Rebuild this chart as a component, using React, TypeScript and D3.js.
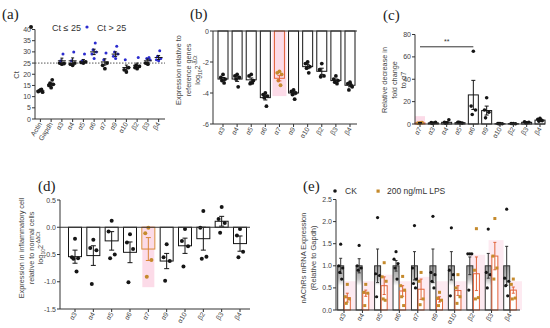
import React from "react";
import * as d3 from "d3";

const FONT = "'Liberation Sans', Arial, sans-serif";
const SERIF = "'Liberation Serif', 'Times New Roman', serif";

// ---------- (a) Ct values ----------
const catsA = ["Actin", "Gapdh", "α3", "α4", "α5", "α6", "α7", "α9", "α10", "β2", "β3", "β4"];
const ctLow = [
  [13, 12.3, 12, 12.6, 13.2], [14, 15, 15.5, 16, 17.5], [24.5, 25, 24.8], [24, 24.5, 25], [25, 25.3, 25.5], [],
  [22.5, 24, 25], [], [21, 22, 23], [22.5, 23, 23.5, 24], [24.5, 25], [],
];
const ctHigh = [
  [], [], [26, 29], [26, 30], [26, 29], [27, 29, 30, 31, 34], [26.5, 29.5], [27, 28, 29, 30, 32.5],
  [26.5], [27.5], [26.5, 27, 27.5], [26, 26.5, 27, 28, 30.5],
];
const ctMean = [12.6, 15.5, 26, 26, 25.8, 30, 25.5, 29, 23, 24, 26, 27.5];
const ctSem = [0.3, 0.6, 1.2, 1.3, 0.8, 1.2, 1.4, 1.0, 1.1, 1.0, 0.8, 0.9];
const ticksA = [0, 5, 10, 15, 20, 25, 30, 35, 40];

// ---------- (b) log10 2^-ΔCt ----------
const catsB = ["α3", "α4", "α5", "α6", "α7", "α9", "α10", "β2", "β3", "β4"];
const meanB = [-3.1, -3.1, -3.15, -4.3, -3.05, -4.0, -2.3, -2.6, -3.2, -3.5];
const semB = [0.1, 0.15, 0.12, 0.15, 0.17, 0.12, 0.13, 0.2, 0.1, 0.1];
const ptsB = [
  [-2.8, -3.0, -3.1, -3.2, -3.35], [-2.8, -2.9, -3.0, -3.1, -3.6], [-2.8, -2.9, -3.2, -3.4, -3.35],
  [-4.0, -4.1, -4.2, -4.3, -4.85], [-2.6, -2.7, -2.8, -3.2, -3.5], [-3.8, -3.9, -4.0, -4.1, -4.4],
  [-2.0, -2.1, -2.3, -2.4, -2.7], [-2.1, -2.5, -2.9, -2.95], [-2.9, -3.1, -3.2, -3.3, -3.4],
  [-3.3, -3.4, -3.6, -3.8, -3.5],
];
const ticksB = [0, -2, -4, -6];

// ---------- (c) fold change relative to α7 ----------
const catsC = ["α7", "α3", "α4", "α5", "α6", "α9", "α10", "β2", "β3", "β4"];
const meanC = [1, 1, 1.5, 1.2, 26, 12, 0.3, 0.3, 1.5, 3.5];
const semC = [0.3, 0.2, 0.6, 0.3, 13, 4, 0.1, 0.1, 0.3, 0.6];
const ptsC = [
  [1, 0.8, 1.2, 0.5, 1.4], [0.8, 1.2, 1.5, 0.6], [1, 1.5, 3.8, 0.7], [1.2, 1.5, 0.8, 1.6],
  [65, 16, 12.5, 8.5], [23.5, 12.5, 10.5, 5.5], [0.3, 0.4, 0.2, 0.3], [0.3, 0.4, 0.2],
  [1, 2, 1.5, 1.2], [5, 4.2, 3, 2.5, 3.5],
];
const ticksC = [0, 20, 40, 60, 80];
const sigC = { from: "α7", to: "α6", level: 69, label: "**" };

// ---------- (d) inflammatory vs normal ----------
const catsD = ["α3", "α4", "α5", "α6", "α7", "α9", "α10", "β2", "β3", "β4"];
const meanD = [-0.54, -0.52, -0.25, -0.46, -0.40, -0.62, -0.34, -0.21, 0.11, -0.30];
const semD = [0.12, 0.18, 0.17, 0.19, 0.21, 0.14, 0.14, 0.21, 0.09, 0.14];
const ptsD = [
  [-0.21, -0.55, -0.57, -0.58, -0.81], [-0.23, -0.38, -0.42, -1.04], [0.12, -0.08, -0.50, -0.57],
  [-0.13, -0.28, -0.40, -1.01], [-0.01, -0.11, -0.60, -0.91], [-0.31, -0.55, -0.62, -0.98],
  [-0.03, -0.25, -0.35, -0.72], [0.30, -0.01, -0.54, -0.58], [0.37, 0.15, 0.08, -0.10],
  [-0.03, -0.15, -0.45, -0.55],
];
const ticksD = [0.5, 0.0, -0.5, -1.0, -1.5];

// ---------- (e) CK vs LPS ----------
const catsE = ["α3", "α4", "α5", "α6", "α7", "α9", "α10", "β2", "β3", "β4"];
const meanCK = [1, 1, 1, 1, 1, 1, 1, 1, 1, 1];
const semCK = [0.17, 0.16, 0.38, 0.12, 0.32, 0.38, 0.32, 0.2, 0.28, 0.44];
const ptsCK = [
  [1.49, 1.0, 0.95, 0.85, 0.7], [1.46, 1.0, 0.95, 0.9], [2.09, 0.82, 0.78, 0.3], [1.32, 1.15, 1.05, 0.95, 0.7],
  [1.91, 0.95, 0.7, 0.6, 0.5], [2.12, 0.85, 0.8, 0.65, 0.5], [1.86, 0.9, 0.8, 0.32], [1.27, 1.27, 1.27, 0.45],
  [1.83, 0.85, 0.8, 0.5], [2.28, 0.72, 0.65, 0.55, 0.32],
];
const meanLPS = [0.28, 0.38, 0.55, 0.43, 0.47, 0.24, 0.44, 0.82, 1.22, 0.45];
const semLPS = [0.1, 0.07, 0.2, 0.12, 0.23, 0.06, 0.11, 0.38, 0.31, 0.07];
const ptsLPS = [
  [0.58, 0.3, 0.25, 0.15], [0.58, 0.4, 0.38, 0.1], [1.07, 0.75, 0.65, 0.25, 0.22], [0.76, 0.55, 0.45, 0.3, 0.1],
  [0.85, 0.65, 0.25, 0.12], [0.4, 0.27, 0.22, 0.1], [0.8, 0.5, 0.3, 0.15], [1.84, 0.9, 0.28, 0.25],
  [2.07, 1.22, 0.95, 0.7], [0.7, 0.58, 0.27, 0.25],
];
const ticksE = [0, 0.5, 1.0, 1.5, 2.0, 2.5];

const JIT = [0, -2.2, 2.2, -1.1, 1.1, -3, 3];
const BLACK = "#151515";
const BLUE = "#2c2ccf";
const ORANGE = "#c58a2c";
const RED = "#e2633a";
const PINK = "#fcdbe8";

function YAxis({ x, scale, ticks, fmt, lab }: any) {
  const [d0, d1] = scale.domain();
  return (
    <g fontFamily={FONT} fontSize={7} fill="#444">
      <line x1={x} x2={x} y1={scale(d0)} y2={scale(d1)} stroke="#333" strokeWidth={1} />
      {ticks.map((t: number) => (
        <g key={t}>
          <line x1={x - 3} x2={x} y1={scale(t)} y2={scale(t)} stroke="#333" />
          <text x={x - 4} y={scale(t) + 2.5} textAnchor="end">{fmt ? fmt(t) : String(t)}</text>
        </g>
      ))}
      {lab}
    </g>
  );
}

function XAxis({ y, x0, x1, scale, cats }: any) {
  return (
    <g fontFamily={FONT} fontSize={6.8} fill="#444">
      <line x1={x0} x2={x1} y1={y} y2={y} stroke="#333" strokeWidth={1} />
      {cats.map((c: string) => (
        <g key={c}>
          <line x1={scale(c)} x2={scale(c)} y1={y} y2={y + 3} stroke="#333" />
          <text transform={`translate(${scale(c) + 2},${y + 5}) rotate(-58)`} textAnchor="end">{c}</text>
        </g>
      ))}
    </g>
  );
}

function ErrBar({ x, y1, y2, w = 4, color = BLACK }: any) {
  return (
    <g stroke={color} strokeWidth={1}>
      <line x1={x} x2={x} y1={y1} y2={y2} />
      <line x1={x - w / 2} x2={x + w / 2} y1={y1} y2={y1} />
      <line x1={x - w / 2} x2={x + w / 2} y1={y2} y2={y2} />
    </g>
  );
}

function RotLabel({ x, y, lines, size = 7.5 }: any) {
  return (
    <text transform={`translate(${x},${y}) rotate(-90)`} textAnchor="middle" fontFamily={FONT} fontSize={size} fill="#444">
      {lines.map((l: any, i: number) => (
        <tspan key={i} x={0} dy={i === 0 ? 0 : 9.5}>{l}</tspan>
      ))}
    </text>
  );
}

function PanelA() {
  const x = d3.scalePoint<string>().domain(catsA).range([35, 164]).padding(0.5);
  const y = d3.scaleLinear().domain([0, 40]).range([119, 29.5]);
  return (
    <g>
      <text x={2} y={19} fontFamily={SERIF} fontSize={15} fill="#222">(a)</text>
      <circle cx={31} cy={27} r={2} fill={BLACK} />
      <text x={52} y={30.5} fontFamily={FONT} fontSize={9} fill="#333">Ct ≤ 25</text>
      <circle cx={87} cy={27} r={1.6} fill={BLUE} />
      <text x={97} y={30.5} fontFamily={FONT} fontSize={9} fill="#333">Ct &gt; 25</text>
      <line x1={35} x2={165} y1={y(25)} y2={y(25)} stroke="#555" strokeDasharray="1.5,1.5" />
      {catsA.map((c, i) => {
        const all = [...ctLow[i].map((v) => [v, 0]), ...ctHigh[i].map((v) => [v, 1])];
        return (
          <g key={c}>
            {all.map(([v, h], j) => (
              <circle key={j} cx={x(c)! + JIT[j % JIT.length]} cy={y(v)} r={h ? 1.5 : 1.9} fill={h ? BLUE : BLACK} />
            ))}
            <line x1={x(c)! - 4} x2={x(c)! + 4} y1={y(ctMean[i])} y2={y(ctMean[i])} stroke={BLACK} strokeWidth={1} />
            <ErrBar x={x(c)} y1={y(ctMean[i] - ctSem[i])} y2={y(ctMean[i] + ctSem[i])} w={3} />
          </g>
        );
      })}
      <YAxis x={35} scale={y} ticks={ticksA} lab={<RotLabel x={19} y={75} lines={["Ct"]} />} />
      <XAxis y={119} x0={35} x1={165} scale={x} cats={catsA} />
    </g>
  );
}

function PanelB() {
  const x = d3.scalePoint<string>().domain(catsB).range([223, 350]);
  const y = d3.scaleLinear().domain([0, -6]).range([31, 124]);
  const bw = 10;
  return (
    <g>
      <text x={190} y={19} fontFamily={SERIF} fontSize={15} fill="#222">(b)</text>
      <rect x={x("α7")! - 7} y={y(0)} width={14} height={y(-4.2) - y(0)} fill={PINK} />
      {catsB.map((c, i) => (
        <g key={c}>
          <rect x={x(c)! - bw / 2} y={y(0)} width={bw} height={y(meanB[i]) - y(0)} fill="none"
            stroke={c === "α7" ? RED : BLACK} strokeWidth={1} />
          {ptsB[i].map((v, j) => (
            <circle key={j} cx={x(c)! + JIT[j % JIT.length]} cy={y(v)} r={1.9} fill={c === "α7" ? ORANGE : BLACK} />
          ))}
          <ErrBar x={x(c)} y1={y(meanB[i] - semB[i])} y2={y(meanB[i] + semB[i])} w={4} color={c === "α7" ? RED : BLACK} />
        </g>
      ))}
      <line x1={213} x2={357} y1={y(0)} y2={y(0)} stroke="#333" />
      <YAxis x={213} scale={y} ticks={ticksB}
        lab={<RotLabel x={181} y={70} size={7.3} lines={["Expression relative to", "reference genes", <tspan key="l">log<tspan fontSize={5} dy={2}>10</tspan><tspan dy={-2}>2</tspan><tspan fontSize={5} dy={-3}>-ΔCt</tspan></tspan>]} />} />
      <XAxis y={124} x0={213} x1={357} scale={x} cats={catsB} />
    </g>
  );
}

function PanelC() {
  const x = d3.scalePoint<string>().domain(catsC).range([420, 540]);
  const y = d3.scaleLinear().domain([0, 80]).range([124, 34.5]);
  const bw = 10;
  return (
    <g>
      <text x={383} y={20} fontFamily={SERIF} fontSize={15} fill="#222">(c)</text>
      <rect x={x("α7")! - 5} y={y(7)} width={10} height={y(0) - y(7)} fill={PINK} />
      {catsC.map((c, i) => (
        <g key={c}>
          <rect x={x(c)! - bw / 2} y={y(meanC[i])} width={bw} height={y(0) - y(meanC[i])} fill="none"
            stroke={c === "α7" ? RED : BLACK} strokeWidth={1} />
          {ptsC[i].map((v, j) => (
            <circle key={j} cx={x(c)! + JIT[j % JIT.length]} cy={y(v)} r={1.8} fill={c === "α7" ? ORANGE : BLACK} />
          ))}
          <ErrBar x={x(c)} y1={y(Math.max(0, meanC[i] - semC[i]))} y2={y(meanC[i] + semC[i])} w={4} />
        </g>
      ))}
      <line x1={x(sigC.from)} x2={x(sigC.to)} y1={y(sigC.level)} y2={y(sigC.level)} stroke="#333" />
      <text x={(x(sigC.from)! + x(sigC.to)!) / 2} y={y(sigC.level) - 2.5} textAnchor="middle" fontFamily={FONT} fontSize={7} fill="#333">{sigC.label}</text>
      <YAxis x={415} scale={y} ticks={ticksC}
        lab={<RotLabel x={387} y={80} size={7.3} lines={["Relative decrease in", "fold change", "to α7"]} />} />
      <XAxis y={124} x0={415} x1={545} scale={x} cats={catsC} />
    </g>
  );
}

function PanelD() {
  const x = d3.scalePoint<string>().domain(catsD).range([75, 240]);
  const y = d3.scaleLinear().domain([-1.5, 0.5]).range([309, 200]);
  const bw = 13;
  return (
    <g>
      <text x={38} y={191} fontFamily={SERIF} fontSize={15} fill="#222">(d)</text>
      <rect x={x("α7")! - 6} y={y(0.02)} width={12} height={y(-1.1) - y(0.02)} fill={PINK} />
      {catsD.map((c, i) => {
        const m = meanD[i];
        return (
          <g key={c}>
            <rect x={x(c)! - bw / 2} y={y(Math.max(0, m))} width={bw} height={Math.abs(y(m) - y(0))} fill="none"
              stroke={c === "α7" ? "#d9873a" : BLACK} strokeWidth={1} />
            {ptsD[i].map((v, j) => (
              <circle key={j} cx={x(c)! + JIT[j % JIT.length] * 1.4} cy={y(v)} r={2} fill={c === "α7" ? ORANGE : BLACK} />
            ))}
            <ErrBar x={x(c)} y1={y(m - semD[i])} y2={y(m + semD[i])} w={5} color={c === "α7" ? "#d9873a" : BLACK} />
          </g>
        );
      })}
      <line x1={60} x2={250} y1={y(0)} y2={y(0)} stroke="#333" />
      <YAxis x={60} scale={y} ticks={ticksD} fmt={(t: number) => t.toFixed(1)}
        lab={<RotLabel x={24} y={248} size={7.3} lines={["Expression in inflammatory cell", "relative to normal cells", <tspan key="l">log<tspan fontSize={5} dy={2}>10</tspan><tspan dy={-2}>2</tspan><tspan fontSize={5} dy={-3}>-ΔΔCt</tspan></tspan>]} />} />
      <XAxis y={309} x0={60} x1={250} scale={x} cats={catsD} />
    </g>
  );
}

function PanelE() {
  const x = d3.scalePoint<string>().domain(catsE).range([344, 510]);
  const y = d3.scaleLinear().domain([0, 2.5]).range([310, 199.5]);
  const bw = 6;
  return (
    <g>
      <defs>
        <linearGradient id="ckfill" x1="0" y1="0" x2="0" y2="1">
          <stop offset="0" stopColor="#9c9c9c" />
          <stop offset="0.3" stopColor="#c4c4c4" />
          <stop offset="0.45" stopColor="#ffffff" />
          <stop offset="1" stopColor="#ffffff" />
        </linearGradient>
      </defs>
      <text x={303} y={191} fontFamily={SERIF} fontSize={15} fill="#222">(e)</text>
      <circle cx={335} cy={191} r={1.8} fill={BLACK} />
      <text x={345} y={194} fontFamily={FONT} fontSize={8.5} fill="#333">CK</text>
      <rect x={376.5} y={189.5} width={3.2} height={3.2} fill={ORANGE} />
      <text x={387} y={194} fontFamily={FONT} fontSize={8.5} fill="#333">200 ng/mL LPS</text>
      {catsE.map((c, i) => {
        const g = x(c)!;
        const top = Math.max(meanLPS[i] + semLPS[i], 0.6);
        return (
          <rect key={c} x={g - 3} y={y(top + 0.05)} width={15} height={y(0) - y(top + 0.05)} fill="#fdeaf1" />
        );
      })}
      {catsE.map((c, i) => {
        const g = x(c)!;
        const ck = g - 3.3;
        const lp = g + 3.3;
        return (
          <g key={c}>
            <rect x={ck - bw / 2} y={y(meanCK[i])} width={bw} height={y(0) - y(meanCK[i])} fill="url(#ckfill)" stroke="#333" strokeWidth={1} />
            <ErrBar x={ck} y1={y(meanCK[i] - semCK[i])} y2={y(meanCK[i] + semCK[i])} w={3} color="#333" />
            {ptsCK[i].map((v, j) => (
              <circle key={j} cx={ck + JIT[j % JIT.length] * 0.9} cy={y(v)} r={1.6} fill={BLACK} />
            ))}
            <rect x={lp - bw / 2} y={y(meanLPS[i])} width={bw} height={y(0) - y(meanLPS[i])} fill="#fff" stroke={RED} strokeWidth={1} />
            <ErrBar x={lp} y1={y(Math.max(0, meanLPS[i] - semLPS[i]))} y2={y(meanLPS[i] + semLPS[i])} w={3} color={RED} />
            {ptsLPS[i].map((v, j) => (
              <rect key={j} x={lp + JIT[j % JIT.length] * 0.9 - 1.5} y={y(v) - 1.5} width={3} height={3} fill={ORANGE} />
            ))}
          </g>
        );
      })}
      <YAxis x={336} scale={y} ticks={ticksE} fmt={(t: number) => t.toFixed(1)}
        lab={<RotLabel x={306} y={258} size={7.5} lines={["nAChRs mRNA Expression", "(Relative to Gapdh)"]} />} />
      <XAxis y={310} x0={336} x1={520} scale={x} cats={catsE} />
    </g>
  );
}

export default function App() {
  return (
    <svg width={550} height={328} style={{ position: "absolute", left: 0, top: 0, background: "#fff" }}>
      <rect width={550} height={328} fill="#fff" />
      <PanelA />
      <PanelB />
      <PanelC />
      <PanelD />
      <PanelE />
    </svg>
  );
}
